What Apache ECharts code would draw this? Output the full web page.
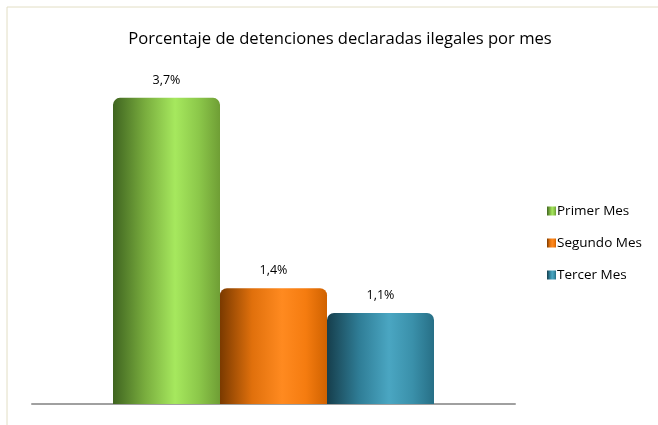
<!DOCTYPE html>
<html><head><meta charset="utf-8">
<script src="https://cdn.jsdelivr.net/npm/echarts@6/dist/echarts.min.js"></script>
<style>html,body{margin:0;padding:0;background:#fff}#c{width:658px;height:425px}</style>
</head><body><div id="c"></div>
<script>
const categories = ['Mes'];
const seriesNames = ['Primer Mes', 'Segundo Mes', 'Tercer Mes'];
const values = [3.7, 1.4, 1.1];
const titleText = 'Porcentaje de detenciones declaradas ilegales por mes';

const palettes = [
  ['#3f6420', '#79ad3e', '#a6e85e', '#8cc84a', '#6f9e35'],
  ['#7a3a00', '#e0700c', '#ff8a20', '#f57c10', '#d06200'],
  ['#163e4c', '#2f7d96', '#4aa6c2', '#3a90aa', '#276f86']
];
function grad(p){
  return new echarts.graphic.LinearGradient(0,0,1,0,[
    {offset:0,color:p[0]},{offset:0.3,color:p[1]},{offset:0.58,color:p[2]},{offset:0.8,color:p[3]},{offset:1,color:p[4]}
  ]);
}
const font = '"Open Sans", "Noto Sans", sans-serif';
const chart = echarts.init(document.getElementById('c'));
chart.setOption({
  animation:false,
  title:{text:titleText,left:335,top:26,textAlign:'center',
    textStyle:{fontFamily:font,fontWeight:'normal',fontSize:16.6,color:'#000'}},
  graphic:[{type:'rect',shape:{x:7,y:7,width:700,height:500},
    style:{fill:'none',stroke:'#e2dec4',lineWidth:1},silent:true,z:-1}],
  legend:{orient:'vertical',left:542,top:199,itemWidth:9,itemHeight:9,itemGap:18,
    icon:'rect',textStyle:{fontFamily:font,fontSize:13.5,color:'#000',padding:[0,0,0,-4]},
    data:seriesNames},
  grid:{left:32,right:143,top:73,bottom:21},
  xAxis:{type:'category',data:categories,axisTick:{show:false},axisLabel:{show:false},
    axisLine:{lineStyle:{color:'#a0a0a0',width:2}}},
  yAxis:{type:'value',min:0,max:4,show:false,splitLine:{show:false}},
  series:seriesNames.map((n,i)=>({
    name:n,type:'bar',barWidth:107,barGap:'0%',
    data:[values[i]],
    itemStyle:{color:grad(palettes[i]),borderRadius:[7,7,0,0]},
    label:{show:true,position:'top',distance:11,
      formatter:p=>String(p.value).replace('.',',')+'%',
      fontFamily:font,fontSize:12.5,color:'#000'}
  }))
});
</script></body></html>
